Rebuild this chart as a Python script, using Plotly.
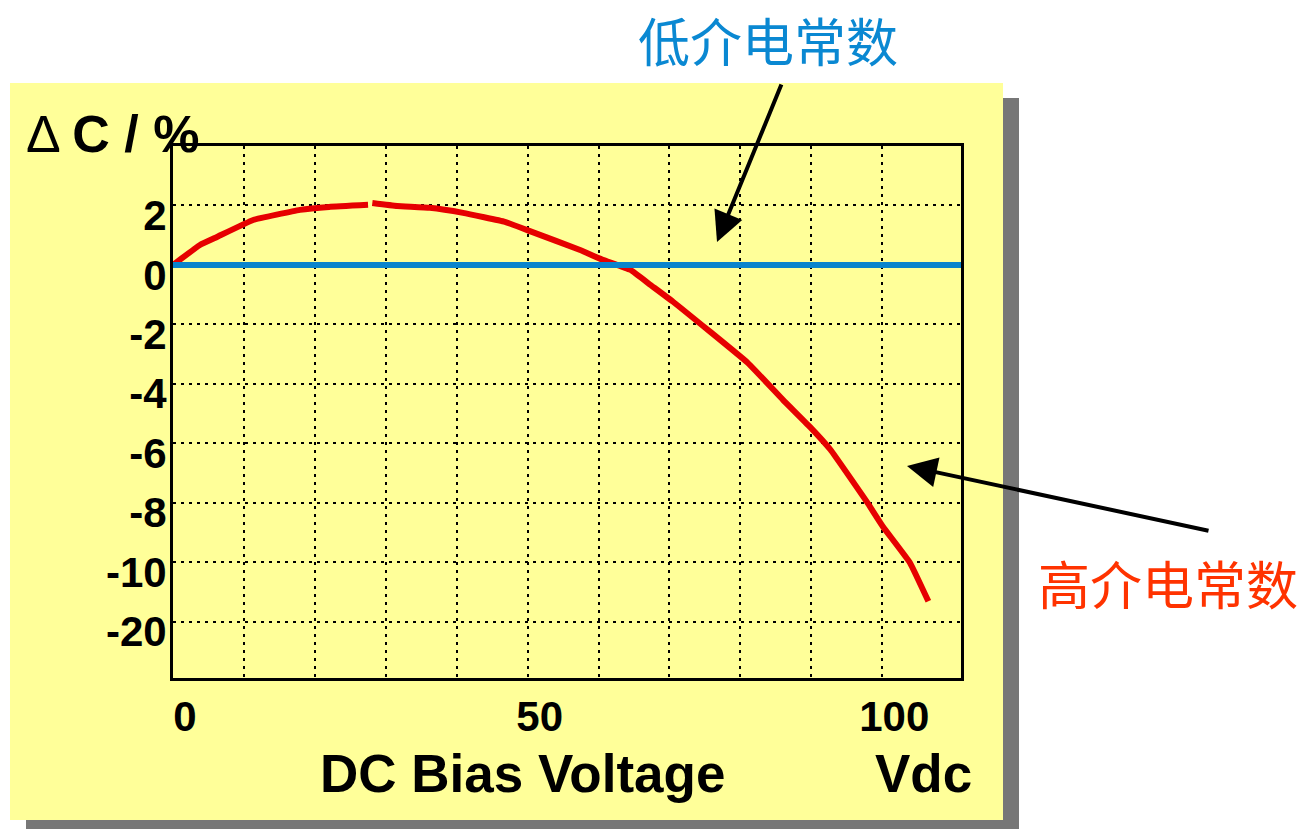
import plotly.graph_objects as go

# DC bias voltage (V) and capacitance change (%) of the high-k ceramic
volts_a = [0, 3.8, 6.2, 11.3, 17.9, 22.0, 27.5]
dc_a = [0.0, 0.67, 0.94, 1.51, 1.85, 1.95, 2.02]
volts_b = [28.1, 31.6, 36.2, 40.9, 46.8, 50.6, 57.4, 60.6, 64.5, 67.3, 70.5,
           81.0, 86.0, 89.8, 92.7, 97.9, 100.1, 103.9, 106.5]
dc_b = [2.08, 1.98, 1.92, 1.75, 1.45, 1.11, 0.50, 0.17, -0.17, -0.67, -1.24,
        -3.29, -4.54, -5.45, -6.22, -8.0, -8.81, -10.1, -16.6]

# low-k ceramic: flat response
volts_low = [0, 111.1]
dc_low = [0.0, 0.0]

y_ticks = [2, 0, -2, -4, -6, -8, -10, -20]
x_ticks = [0, 50, 100]
x_grid = [10, 20, 30, 40, 60, 70, 80, 90]


def axis_pos(v):
    # 2 % per grid step down to -10 %, then 10 % per step
    return v / 2 if v >= -10 else -5 + (v + 10) / 10


W, H = 1304, 829
L, R, T, B = 173, 961, 146, 678
PW, PH = R - L, B - T


def px(x):
    return (x - L) / PW


def py(y):
    return (B - y) / PH


fig = go.Figure()
fig.add_trace(go.Scatter(
    x=volts_a + [None] + volts_b,
    y=[axis_pos(v) for v in dc_a] + [None] + [axis_pos(v) for v in dc_b],
    mode="lines", line=dict(color="#e60000", width=6, shape="spline", smoothing=0.3),
    hoverinfo="skip"))
fig.add_trace(go.Scatter(
    x=volts_low, y=[axis_pos(v) for v in dc_low],
    mode="lines", line=dict(color="#0a84cc", width=6), hoverinfo="skip"))

tick_font = dict(family="Liberation Sans, Arial", size=42, color="black", weight="bold")
grid = dict(gridcolor="black", gridwidth=2, griddash="3px,5px")

fig.update_xaxes(
    range=[0, 111.1], tickvals=x_ticks, ticktext=[str(v) for v in x_ticks],
    showgrid=True, **grid,
    minor=dict(tickvals=x_grid, showgrid=True, ticks="", **grid),
    showline=True, linecolor="black", linewidth=3, mirror=True,
    ticks="", tickfont=tick_font, ticklabelstandoff=0, ticklabelshift=12,
    zeroline=False)
fig.update_yaxes(
    range=[-6.95, 2.0], tickvals=[axis_pos(v) for v in y_ticks],
    ticktext=[str(v) for v in y_ticks],
    showgrid=True, **grid,
    showline=True, linecolor="black", linewidth=3, mirror=True,
    ticks="", tickfont=tick_font, ticklabelstandoff=-5, ticklabelshift=10,
    zeroline=False)

shapes = [
    # drop shadow and yellow panel
    dict(type="rect", xref="paper", yref="paper", x0=px(26), x1=px(1019),
         y0=py(840), y1=py(98), fillcolor="#777777", line_width=0, layer="below"),
    dict(type="rect", xref="paper", yref="paper", x0=px(10), x1=px(1003),
         y0=py(820), y1=py(83), fillcolor="#ffff99", line_width=0, layer="below"),
]

label_font = dict(family="Liberation Sans, Arial", size=53, color="black", weight="bold")


def label(text, x, y, font):
    return dict(text=text, x=px(x), y=py(y), xref="paper", yref="paper",
                xanchor="center", yanchor="middle", showarrow=False, font=font)


def pointer(tip, tail):
    return dict(text="", x=px(tip[0]), y=py(tip[1]), xref="paper", yref="paper",
                ax=tail[0] - tip[0], ay=tail[1] - tip[1], axref="pixel", ayref="pixel",
                showarrow=True, arrowhead=2, arrowsize=1.5, arrowwidth=4,
                arrowcolor="black", standoff=0)


annotations = [
    label("Δ <b>C / %</b>", 112, 134,
          dict(family="Liberation Sans, Arial", size=52, color="black")),
    label("DC Bias Voltage", 522, 773, label_font),
    label("Vdc", 923, 773, label_font),
    label("低介电常数", 768, 39, dict(family="Noto Sans CJK SC", size=52, color="#0a88d2")),
    label("高介电常数", 1168, 582, dict(family="Noto Sans CJK SC", size=52, color="#ff3300")),
    pointer((717, 242), (782, 83)),
    pointer((907, 466), (1210, 531)),
]

fig.update_layout(
    width=W, height=H,
    margin=dict(l=L, r=W - R, t=T, b=H - B, pad=0),
    paper_bgcolor="white", plot_bgcolor="rgba(0,0,0,0)",
    showlegend=False, shapes=shapes, annotations=annotations,
)

fig.write_html("out.html")
